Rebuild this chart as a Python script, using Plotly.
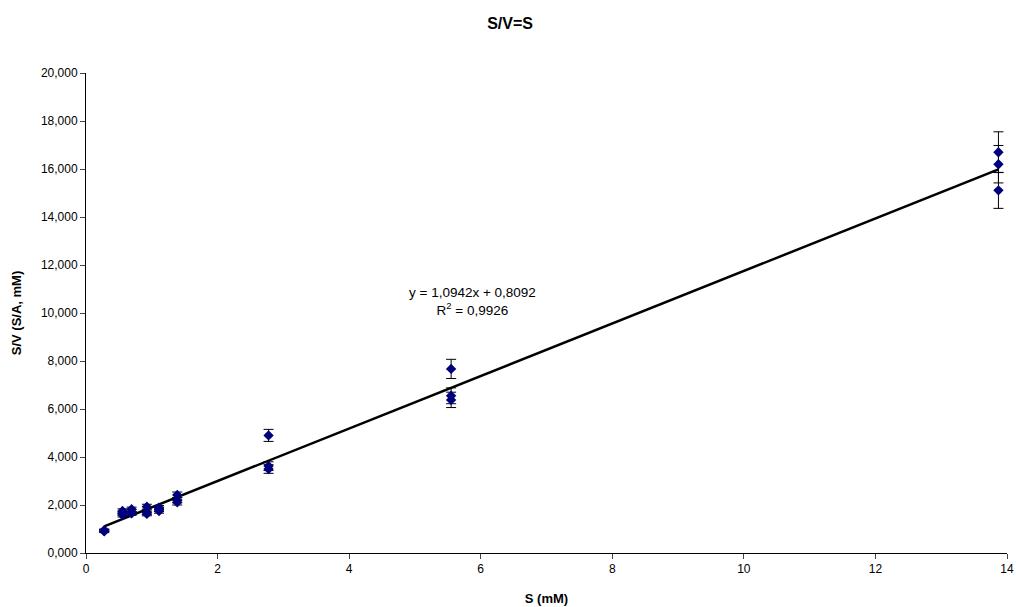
import plotly.graph_objects as go

S_mM = [0.277, 0.277, 0.277,
        0.555, 0.555, 0.555,
        0.693, 0.693, 0.693,
        0.925, 0.925, 0.925,
        1.11, 1.11, 1.11,
        1.387, 1.387, 1.387,
        2.775, 2.775, 2.775,
        5.55, 5.55, 5.55,
        13.87, 13.87, 13.87]
SV = [0.90, 0.93, 0.95,
      1.58, 1.66, 1.75,
      1.65, 1.72, 1.82,
      1.63, 1.70, 1.93,
      1.75, 1.82, 1.89,
      2.11, 2.20, 2.42,
      3.50, 3.62, 4.90,
      6.38, 6.55, 7.67,
      15.11, 16.20, 16.70]
SV_err = [0.05, 0.05, 0.05,
          0.08, 0.08, 0.09,
          0.08, 0.09, 0.09,
          0.08, 0.09, 0.10,
          0.09, 0.09, 0.09,
          0.11, 0.11, 0.12,
          0.18, 0.18, 0.25,
          0.32, 0.33, 0.40,
          0.75, 0.78, 0.85]

slope = 1.0942
intercept = 0.8092
r2 = 0.9926
trend_x = [min(S_mM), max(S_mM)]
trend_y = [slope * x + intercept for x in trend_x]

x_ticks = [0, 2, 4, 6, 8, 10, 12, 14]
y_ticks = [0, 2, 4, 6, 8, 10, 12, 14, 16, 18, 20]

font_family = "Liberation Sans, Arial, sans-serif"

fig = go.Figure()
fig.add_trace(go.Scatter(
    x=trend_x, y=trend_y, mode="lines",
    line=dict(color="black", width=2.5),
    showlegend=False, hoverinfo="skip"))
fig.add_trace(go.Scatter(
    x=S_mM, y=SV, mode="markers",
    marker=dict(symbol="diamond", color="#00007f", size=8,
                line=dict(width=0)),
    error_y=dict(type="data", array=SV_err, visible=True,
                 color="black", thickness=1, width=5),
    showlegend=False))

fig.add_annotation(
    x=5.87, y=10.46, xref="x", yref="y",
    text="y = 1,0942x + 0,8092<br>R<sup>2</sup> = 0,9926",
    showarrow=False, font=dict(size=13.5, color="black", family=font_family),
    align="center")

fig.update_layout(
    width=1016, height=607,
    paper_bgcolor="white", plot_bgcolor="white",
    margin=dict(l=86, r=9, t=73, b=54),
    separators=",.",
    font=dict(family=font_family, size=11, color="black"),
    title=dict(text="<b>S/V=S</b>", x=0.502, xref="container", xanchor="center",
               y=0.962, yref="container", yanchor="middle",
               font=dict(size=16, family=font_family)),
)
fig.update_xaxes(
    range=[0, 14], tickvals=x_ticks, ticks="outside", ticklen=5, automargin=False,
    showline=True, linecolor="black", linewidth=1, showgrid=False, zeroline=False,
    title=dict(text="<b>S (mM)</b>", font=dict(size=13), standoff=18),
    tickfont=dict(size=12))
fig.update_yaxes(
    range=[0, 20], tickvals=y_ticks, tickformat=".3f", ticks="outside", ticklen=5,
    automargin=False,
    showline=True, linecolor="black", linewidth=1, showgrid=False, zeroline=False,
    title=dict(text="<b>S/V (S/A, mM)</b>", font=dict(size=13), standoff=16),
    tickfont=dict(size=12))

fig.write_html("out.html")
